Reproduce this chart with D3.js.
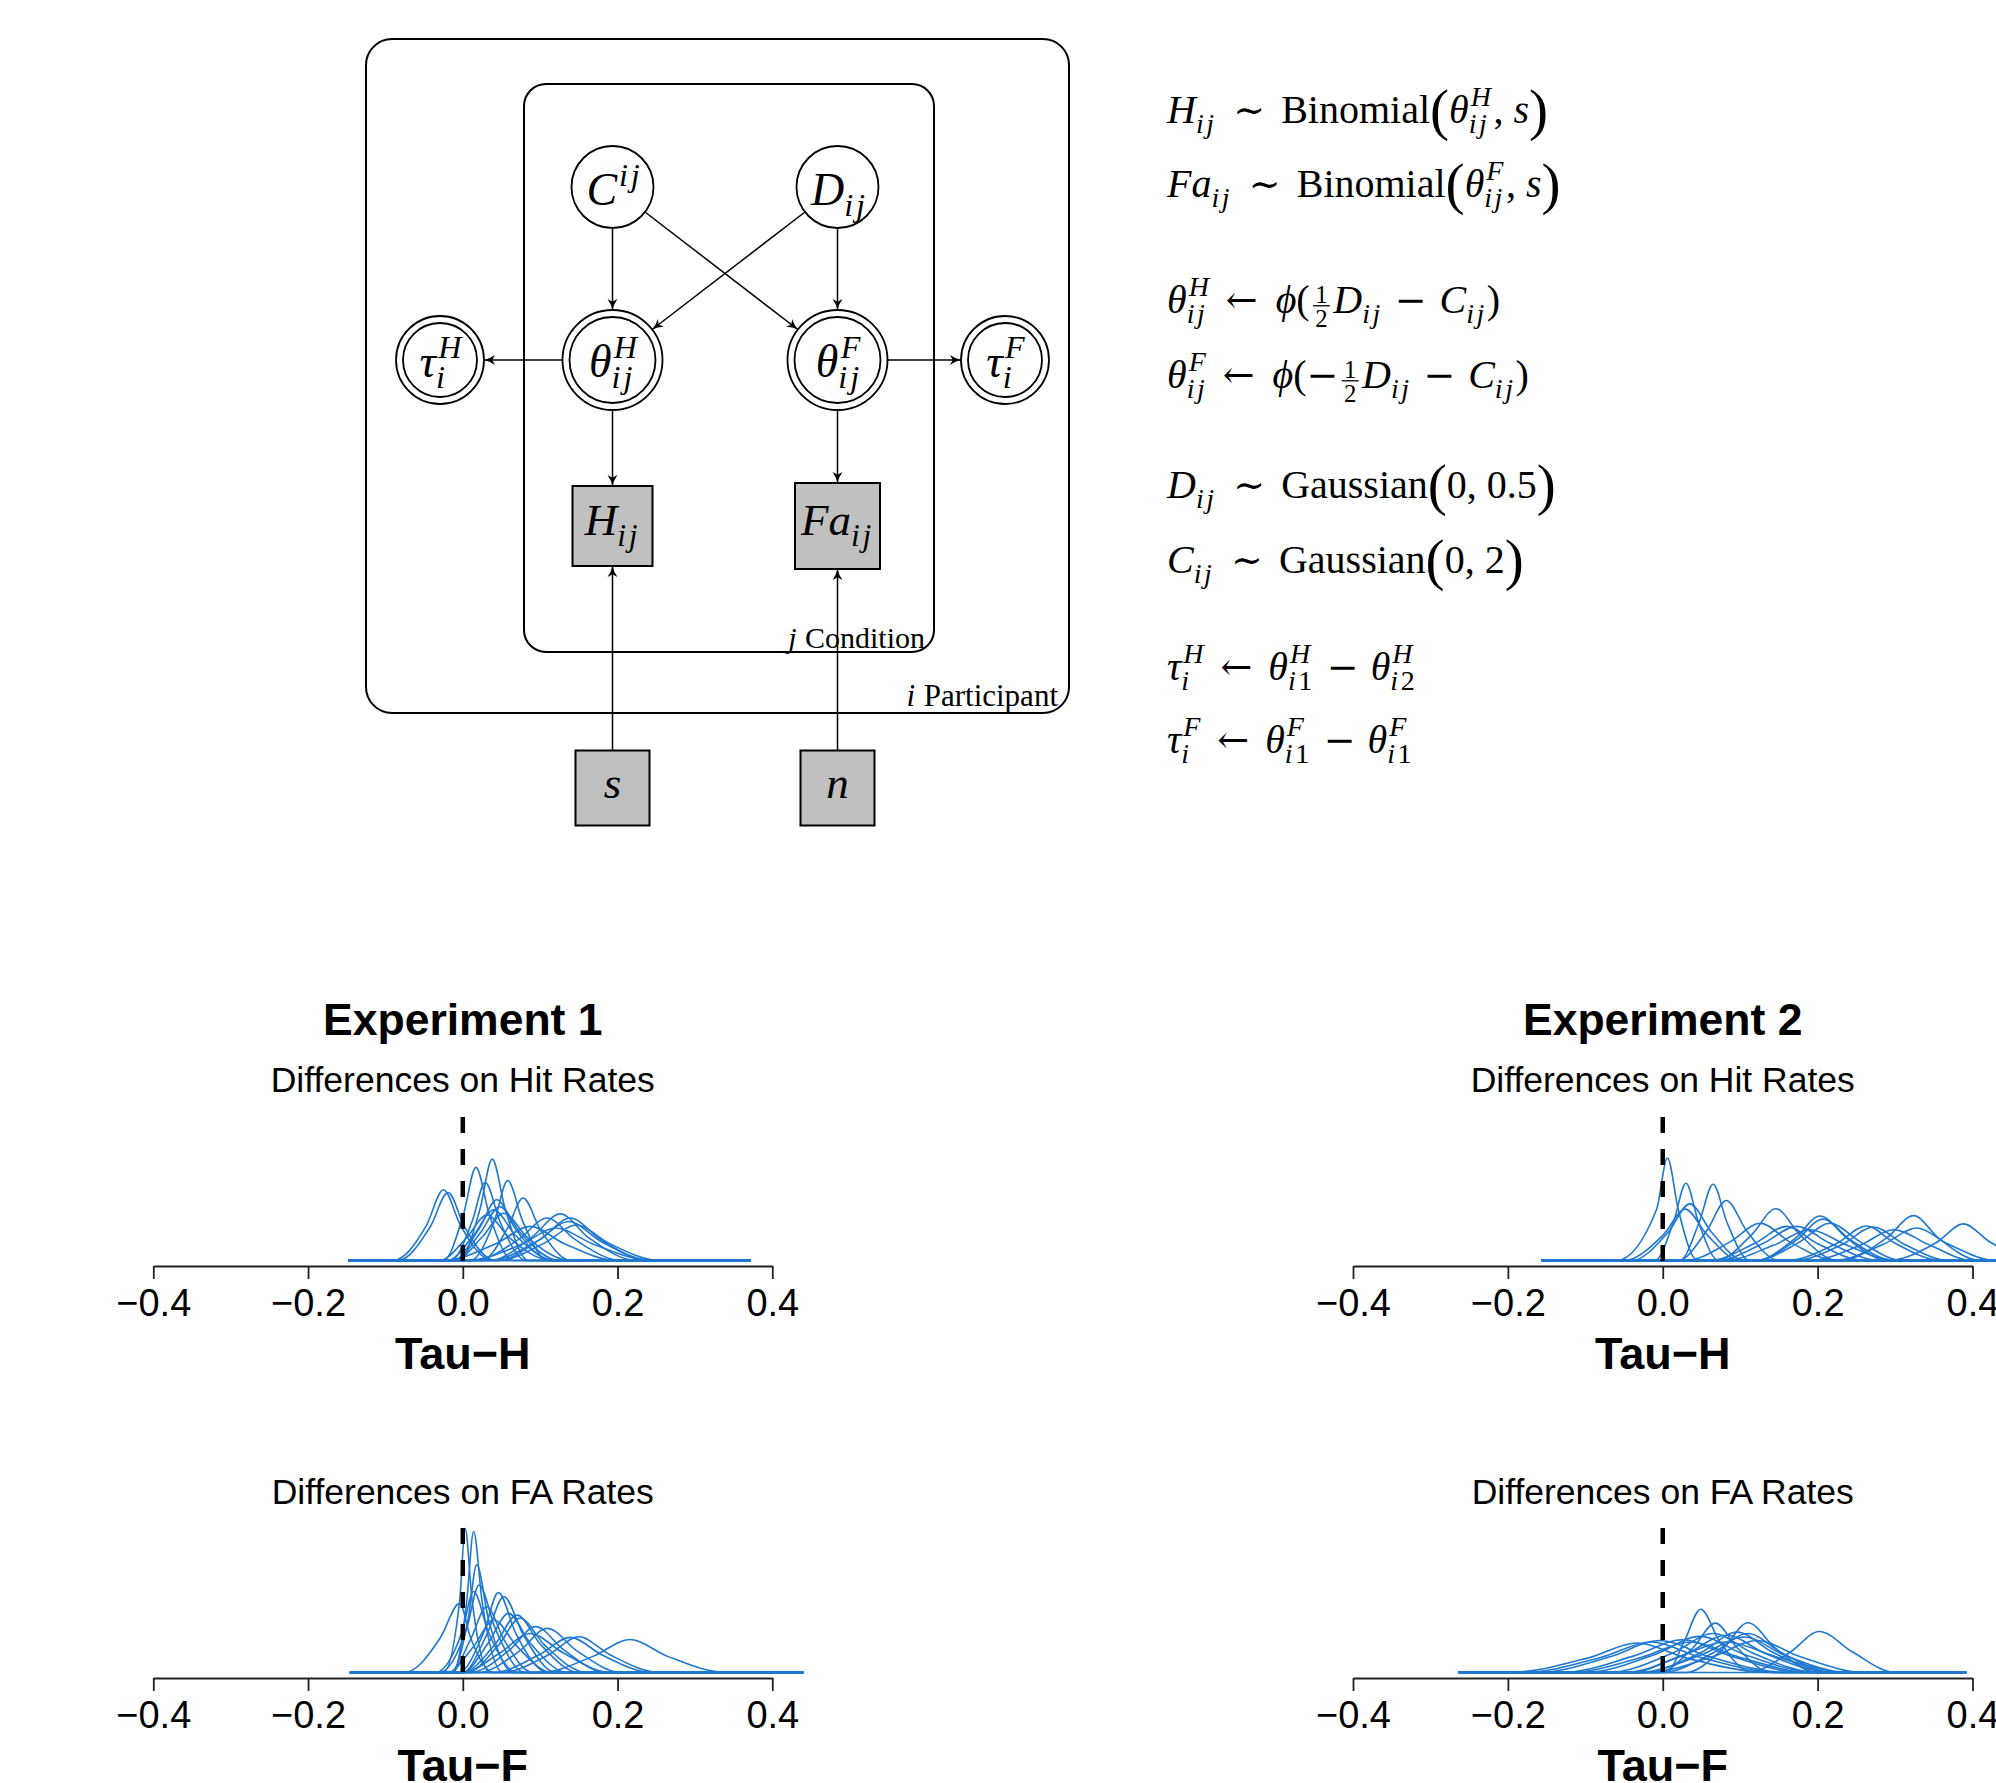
<!DOCTYPE html>
<html>
<head>
<meta charset="utf-8">
<script src="https://cdn.jsdelivr.net/npm/d3@7"></script>
<style>
  body { margin: 0; background: #fff; }
  svg { display: block; }
</style>
</head>
<body>
<script>
let width = 1996, height = 1783
const serif = "'Liberation Serif', 'DejaVu Serif', serif"
const opFont = "'DejaVu Serif', serif"
const sans = "'Liberation Sans', Arial, Helvetica, sans-serif"

// ---- posterior densities: knots [tau, density] ----
const hit1Range = [-0.148, 0.372]
const hit1 = [
  [[-0.090, 0], [-0.047, 10.2], [-0.025, 20.5], [-0.003, 10.2], [0.038, 0]],
  [[-0.084, 0], [-0.042, 9.8], [-0.019, 19.7], [0.002, 9.8], [0.042, 0]],
  [[-0.005, 0], [0.022, 14.7], [0.038, 29.4], [0.055, 14.7], [0.085, 0]],
  [[-0.025, 0], [0.001, 13.5], [0.017, 27.0], [0.034, 13.5], [0.065, 0]],
  [[0.010, 0], [0.041, 11.6], [0.058, 23.2], [0.077, 11.6], [0.110, 0]],
  [[-0.015, 0], [0.012, 11.3], [0.029, 22.6], [0.048, 11.3], [0.082, 0]],
  [[0.025, 0], [0.057, 9.0], [0.078, 18.1], [0.100, 9.0], [0.140, 0]],
  [[-0.012, 0], [0.020, 8.8], [0.044, 17.6], [0.069, 8.8], [0.115, 0]],
  [[-0.010, 0], [0.022, 7.8], [0.048, 15.6], [0.075, 7.8], [0.125, 0]],
  [[-0.020, 0], [0.014, 7.3], [0.040, 14.7], [0.068, 7.3], [0.120, 0]],
  [[-0.030, 0], [0.005, 6.6], [0.031, 13.2], [0.060, 6.6], [0.115, 0]],
  [[-0.010, 0], [0.025, 6.8], [0.053, 13.7], [0.083, 6.8], [0.140, 0]],
  [[0.035, 0], [0.089, 6.7], [0.126, 13.5], [0.162, 6.7], [0.225, 0]],
  [[0.045, 0], [0.100, 6.1], [0.139, 12.3], [0.178, 6.1], [0.240, 0]],
  [[0.015, 0], [0.072, 6.1], [0.109, 12.3], [0.145, 6.1], [0.205, 0]],
  [[0.035, 0], [0.096, 5.6], [0.137, 11.3], [0.178, 5.6], [0.245, 0]],
  [[0.045, 0], [0.106, 5.1], [0.147, 10.3], [0.188, 5.1], [0.255, 0]],
  [[-0.025, 0], [0.044, 5.0], [0.087, 9.9], [0.130, 5.0], [0.200, 0]],
  [[0.005, 0], [0.076, 4.7], [0.120, 9.4], [0.169, 4.7], [0.245, 0]]
]
const hit2Range = [-0.157, 0.6]
const hit2 = [
  [[-0.060, 0], [-0.008, 14.8], [0.006, 29.7], [0.020, 14.8], [0.045, 0]],
  [[-0.010, 0], [0.014, 11.2], [0.030, 22.4], [0.046, 11.2], [0.072, 0]],
  [[0.022, 0], [0.047, 11.0], [0.065, 22.1], [0.083, 11.0], [0.112, 0]],
  [[-0.040, 0], [0.007, 8.2], [0.035, 16.4], [0.063, 8.2], [0.105, 0]],
  [[-0.050, 0], [0.001, 7.5], [0.029, 14.9], [0.057, 7.5], [0.100, 0]],
  [[0.020, 0], [0.057, 8.7], [0.082, 17.4], [0.108, 8.7], [0.150, 0]],
  [[0.070, 0], [0.115, 7.5], [0.146, 15.0], [0.177, 7.5], [0.225, 0]],
  [[0.030, 0], [0.087, 5.4], [0.126, 10.8], [0.164, 5.4], [0.225, 0]],
  [[0.060, 0], [0.119, 5.0], [0.160, 9.9], [0.199, 5.0], [0.260, 0]],
  [[0.070, 0], [0.130, 5.0], [0.173, 9.9], [0.216, 5.0], [0.280, 0]],
  [[0.120, 0], [0.171, 6.4], [0.203, 12.9], [0.238, 6.4], [0.290, 0]],
  [[0.120, 0], [0.173, 6.0], [0.207, 12.0], [0.242, 6.0], [0.300, 0]],
  [[0.120, 0], [0.177, 5.4], [0.216, 10.8], [0.255, 5.4], [0.310, 0]],
  [[0.160, 0], [0.225, 5.0], [0.263, 10.0], [0.300, 5.0], [0.360, 0]],
  [[0.170, 0], [0.233, 4.8], [0.272, 9.7], [0.311, 4.8], [0.370, 0]],
  [[0.230, 0], [0.289, 6.5], [0.324, 13.0], [0.356, 6.5], [0.410, 0]],
  [[0.220, 0], [0.285, 4.7], [0.328, 9.4], [0.369, 4.7], [0.430, 0]],
  [[0.290, 0], [0.354, 5.3], [0.388, 10.6], [0.423, 5.3], [0.480, 0]],
  [[0.190, 0], [0.255, 4.4], [0.298, 8.9], [0.345, 4.4], [0.400, 0]],
  [[0.080, 0], [0.143, 4.4], [0.190, 8.9], [0.238, 4.4], [0.300, 0]]
]
const fa1Range = [-0.146, 0.44]
const fa1 = [
  [[-0.025, 0], [-0.004, 20.8], [0.003, 41.5], [0.012, 20.8], [0.035, 0]],
  [[-0.012, 0], [0.005, 20.3], [0.014, 40.6], [0.025, 20.3], [0.052, 0]],
  [[-0.015, 0], [0.007, 15.5], [0.018, 31.0], [0.033, 15.5], [0.065, 0]],
  [[-0.030, 0], [0.005, 12.6], [0.021, 25.2], [0.042, 12.6], [0.080, 0]],
  [[-0.035, 0], [-0.001, 11.7], [0.014, 23.3], [0.033, 11.7], [0.070, 0]],
  [[-0.075, 0], [-0.029, 10.0], [-0.004, 19.9], [0.010, 10.0], [0.040, 0]],
  [[-0.005, 0], [0.027, 11.5], [0.046, 23.0], [0.068, 11.5], [0.110, 0]],
  [[0.000, 0], [0.031, 10.9], [0.053, 21.8], [0.078, 10.9], [0.120, 0]],
  [[0.000, 0], [0.042, 8.2], [0.070, 16.5], [0.100, 8.2], [0.150, 0]],
  [[0.005, 0], [0.046, 7.8], [0.074, 15.6], [0.106, 7.8], [0.160, 0]],
  [[0.010, 0], [0.061, 6.6], [0.094, 13.2], [0.130, 6.6], [0.185, 0]],
  [[0.020, 0], [0.074, 6.3], [0.109, 12.7], [0.147, 6.3], [0.205, 0]],
  [[0.050, 0], [0.111, 5.1], [0.150, 10.3], [0.190, 5.1], [0.255, 0]],
  [[0.040, 0], [0.098, 5.0], [0.139, 10.1], [0.180, 5.0], [0.245, 0]],
  [[0.100, 0], [0.169, 4.7], [0.216, 9.5], [0.264, 4.7], [0.340, 0]],
  [[-0.015, 0], [0.010, 9.5], [0.031, 18.9], [0.053, 9.5], [0.090, 0]],
  [[0.000, 0], [0.033, 8.5], [0.059, 17.0], [0.087, 8.5], [0.135, 0]],
  [[0.000, 0], [0.048, 5.6], [0.087, 11.2], [0.130, 5.6], [0.190, 0]],
  [[-0.020, 0], [0.014, 7.5], [0.040, 15.1], [0.070, 7.5], [0.115, 0]]
]
const fa2Range = [-0.264, 0.392]
const fa2 = [
  [[0.005, 0], [0.028, 9.1], [0.049, 18.2], [0.073, 9.1], [0.115, 0]],
  [[-0.005, 0], [0.039, 7.1], [0.068, 14.2], [0.096, 7.1], [0.140, 0]],
  [[0.030, 0], [0.079, 7.1], [0.110, 14.3], [0.145, 7.1], [0.200, 0]],
  [[0.110, 0], [0.165, 5.9], [0.202, 11.8], [0.245, 5.9], [0.300, 0]],
  [[-0.160, 0], [-0.067, 4.6], [-0.004, 9.2], [0.059, 4.6], [0.160, 0]],
  [[-0.180, 0], [-0.079, 4.4], [-0.015, 8.75], [0.048, 4.4], [0.150, 0]],
  [[-0.200, 0], [-0.096, 4.2], [-0.033, 8.5], [0.030, 4.2], [0.140, 0]],
  [[-0.130, 0], [-0.038, 4.7], [0.025, 9.4], [0.088, 4.7], [0.180, 0]],
  [[-0.100, 0], [-0.010, 5.2], [0.048, 10.4], [0.105, 5.2], [0.200, 0]],
  [[-0.070, 0], [0.013, 5.6], [0.065, 11.2], [0.116, 5.6], [0.200, 0]],
  [[-0.050, 0], [0.030, 5.3], [0.082, 10.7], [0.134, 5.3], [0.220, 0]],
  [[-0.030, 0], [0.050, 5.8], [0.096, 11.6], [0.142, 5.8], [0.220, 0]],
  [[-0.030, 0], [0.050, 5.1], [0.105, 10.2], [0.156, 5.1], [0.240, 0]],
  [[-0.020, 0], [0.065, 4.6], [0.122, 9.2], [0.177, 4.6], [0.260, 0]],
  [[-0.120, 0], [-0.027, 4.4], [0.036, 8.75], [0.099, 4.4], [0.190, 0]],
  [[0.000, 0], [0.065, 5.6], [0.110, 11.2], [0.154, 5.6], [0.220, 0]],
  [[-0.040, 0], [0.019, 4.4], [0.082, 8.75], [0.148, 4.4], [0.240, 0]]
]

const xTicks = [-0.4, -0.2, 0, 0.2, 0.4]
const yMax = 40
const expTitles = ['Experiment 1', 'Experiment 2']
const rowTitles = ['Differences on Hit Rates', 'Differences on FA Rates']
const axisTitles = ['Tau−H', 'Tau−F']

// model equations, as math tokens ('o' = operator symbol)
const equations = [
  [['i', 'H'], ['_', 'ij'], ['sp', 0.42], ['o', '∼'], ['sp', 0.4], ['r', 'Binomial'], ['big', '('], ['i', 'θ'], ['^_', 'H', 'ij'], ['r', ','], ['sp', 0.25], ['i', 's'], ['big', ')']],
  [['i', 'Fa'], ['_', 'ij'], ['sp', 0.42], ['o', '∼'], ['sp', 0.4], ['r', 'Binomial'], ['big', '('], ['i', 'θ'], ['^_', 'F', 'ij'], ['r', ','], ['sp', 0.25], ['i', 's'], ['big', ')']],
  [['i', 'θ'], ['^_', 'H', 'ij'], ['sp', 0.36], ['o', '←'], ['sp', 0.45], ['i', 'ϕ'], ['r', '('], ['fr', '1', '2'], ['i', 'D'], ['_', 'ij'], ['sp', 0.3], ['o', '−'], ['sp', 0.32], ['i', 'C'], ['_', 'ij'], ['r', ')']],
  [['i', 'θ'], ['^_', 'F', 'ij'], ['sp', 0.36], ['o', '←'], ['sp', 0.45], ['i', 'ϕ'], ['r', '('], ['o', '−'], ['fr', '1', '2'], ['i', 'D'], ['_', 'ij'], ['sp', 0.3], ['o', '−'], ['sp', 0.32], ['i', 'C'], ['_', 'ij'], ['r', ')']],
  [['i', 'D'], ['_', 'ij'], ['sp', 0.42], ['o', '∼'], ['sp', 0.4], ['r', 'Gaussian'], ['big', '('], ['r', '0,'], ['sp', 0.25], ['r', '0.5'], ['big', ')']],
  [['i', 'C'], ['_', 'ij'], ['sp', 0.42], ['o', '∼'], ['sp', 0.4], ['r', 'Gaussian'], ['big', '('], ['r', '0,'], ['sp', 0.25], ['r', '2'], ['big', ')']],
  [['i', 'τ'], ['^_', 'H', 'i'], ['sp', 0.36], ['o', '←'], ['sp', 0.4], ['i', 'θ'], ['^_', 'H', 'i1'], ['sp', 0.3], ['o', '−'], ['sp', 0.3], ['i', 'θ'], ['^_', 'H', 'i2']],
  [['i', 'τ'], ['^_', 'F', 'i'], ['sp', 0.36], ['o', '←'], ['sp', 0.4], ['i', 'θ'], ['^_', 'F', 'i1'], ['sp', 0.3], ['o', '−'], ['sp', 0.3], ['i', 'θ'], ['^_', 'F', 'i1']]
]
const eqBaselines = [123, 197, 313, 388, 498, 573, 680, 753]

// graphical model nodes
const circleNodes = [
  {id: 'C', x: 612.5, y: 187, r: 41, label: [['i', 'C'], ['^', 'ij']]},
  {id: 'D', x: 837.5, y: 187, r: 41, label: [['i', 'D'], ['_', 'ij']]},
  {id: 'thH', x: 612.5, y: 360, r: 50, r2: 43, label: [['i', 'θ'], ['^_', 'H', 'ij']]},
  {id: 'thF', x: 837.5, y: 360, r: 50, r2: 43, label: [['i', 'θ'], ['^_', 'F', 'ij']]},
  {id: 'tauH', x: 440, y: 360, r: 44, r2: 37, label: [['i', 'τ'], ['^_', 'H', 'i']]},
  {id: 'tauF', x: 1005, y: 360, r: 44, r2: 37, label: [['i', 'τ'], ['^_', 'F', 'i']]}
]
const boxNodes = [
  {id: 'H', x: 612.5, y: 526, w: 80, h: 80, label: [['i', 'H'], ['_', 'ij']]},
  {id: 'Fa', x: 837.5, y: 526, w: 85, h: 86, label: [['i', 'Fa'], ['_', 'ij']]},
  {id: 's', x: 612.5, y: 788, w: 74, h: 75, label: [['i', 's']]},
  {id: 'n', x: 837.5, y: 788, w: 74, h: 75, label: [['i', 'n']]}
]
const edges = [['C', 'thH'], ['D', 'thF'], ['C', 'thF'], ['D', 'thH'], ['thH', 'tauH'], ['thF', 'tauF'],
  ['thH', 'H'], ['thF', 'Fa'], ['s', 'H'], ['n', 'Fa']]

let svg = d3.select('body').append('svg')
  .attr('width', width).attr('height', height)
  .attr('font-family', serif)

// ---------- tiny math typesetter ----------
function put(g, txt, x, y, size, style, family) {
  const t = g.append('text').attr('x', x).attr('y', y).attr('font-size', size)
  if (family) t.attr('font-family', family)
  if (style === 'auto') {
    t.attr('letter-spacing', size * 0.09)
    txt.split('').forEach(ch => t.append('tspan')
      .attr('font-style', /[0-9]/.test(ch) ? 'normal' : 'italic').text(ch))
  } else {
    t.attr('font-style', style).text(txt)
  }
  return t.node().getComputedTextLength()
}

function mathLine(parent, x, y, tokens, fs, anchor) {
  const g = parent.append('g')
  let cx = 0
  const sub = 0.7 * fs
  tokens.forEach(([k, a, b]) => {
    if (k === 'i') cx += put(g, a, cx, 0, fs, 'italic')
    else if (k === 'r') cx += put(g, a, cx, 0, fs, 'normal')
    else if (k === 'o') cx += put(g, a, cx, 0, fs * 0.95, 'normal', opFont)
    else if (k === '_') cx += put(g, a, cx, 0.24 * fs, sub, 'auto')
    else if (k === '^') cx += put(g, a, cx + 0.04 * fs, -0.42 * fs, sub, 'auto') + 0.04 * fs
    else if (k === '^_') {
      const w1 = put(g, a, cx + 0.05 * fs, -0.42 * fs, sub, 'auto') + 0.05 * fs
      const w2 = put(g, b, cx, 0.24 * fs, sub, 'auto')
      cx += Math.max(w1, w2)
    }
    else if (k === 'sp') cx += a * fs
    else if (k === 'big') cx += put(g, a, cx, 0.15 * fs, 1.43 * fs, 'normal')
    else if (k === 'fr') {
      const fsz = 0.62 * fs
      const pad = 0.14 * fs
      const tmp = g.append('g')
      const wn = put(tmp, a, 0, 0, fsz, 'normal'), wd = put(tmp, b, 0, 0, fsz, 'normal')
      tmp.remove()
      const w = Math.max(wn, wd) + 2 * pad
      put(g, a, cx + (w - wn) / 2, -0.24 * fs, fsz, 'normal')
      put(g, b, cx + (w - wd) / 2, 0.36 * fs, fsz, 'normal')
      g.append('line').attr('x1', cx + pad * 0.6).attr('x2', cx + w - pad * 0.6)
        .attr('y1', -0.18 * fs).attr('y2', -0.18 * fs)
        .attr('stroke', '#000').attr('stroke-width', 1.3)
      cx += w
    }
  })
  const shift = anchor === 'middle' ? cx / 2 : anchor === 'end' ? cx : 0
  g.attr('transform', `translate(${x - shift},${y})`)
  return g
}

// ---------- graphical model ----------
svg.append('defs').append('marker')
  .attr('id', 'arr').attr('viewBox', '0 -5 10 10')
  .attr('refX', 10).attr('refY', 0)
  .attr('markerWidth', 11).attr('markerHeight', 11)
  .attr('markerUnits', 'userSpaceOnUse').attr('orient', 'auto')
  .append('path').attr('d', 'M0,-4.5Q5,-1 10,0Q5,1 0,4.5L2.5,0Z').attr('fill', '#000')

let diag = svg.append('g')

// plates
diag.append('rect').attr('x', 366).attr('y', 39).attr('width', 703).attr('height', 674)
  .attr('rx', 26).attr('fill', 'none').attr('stroke', '#000').attr('stroke-width', 2)
diag.append('rect').attr('x', 524).attr('y', 84).attr('width', 410).attr('height', 568)
  .attr('rx', 22).attr('fill', 'none').attr('stroke', '#000').attr('stroke-width', 2)
mathLine(diag, 925, 648, [['i', 'j'], ['sp', 0.28], ['r', 'Condition']], 30, 'end')
mathLine(diag, 1058, 706, [['i', 'i'], ['sp', 0.28], ['r', 'Participant']], 31, 'end')

// edges
const nodeById = {}
circleNodes.forEach(n => nodeById[n.id] = Object.assign({shape: 'c'}, n))
boxNodes.forEach(n => nodeById[n.id] = Object.assign({shape: 'b'}, n))
function rim(n, ux, uy) {
  if (n.shape === 'c') return [n.x + n.r * ux, n.y + n.r * uy]
  const t = Math.min(ux ? (n.w / 2) / Math.abs(ux) : Infinity, uy ? (n.h / 2) / Math.abs(uy) : Infinity)
  return [n.x + t * ux, n.y + t * uy]
}
diag.append('g').selectAll('line').data(edges).join('line')
  .each(function ([a, b]) {
    const na = nodeById[a], nb = nodeById[b]
    const dx = nb.x - na.x, dy = nb.y - na.y, L = Math.hypot(dx, dy)
    const p0 = rim(na, dx / L, dy / L), p1 = rim(nb, -dx / L, -dy / L)
    d3.select(this).attr('x1', p0[0]).attr('y1', p0[1]).attr('x2', p1[0]).attr('y2', p1[1])
  })
  .attr('stroke', '#000').attr('stroke-width', 1.5).attr('marker-end', 'url(#arr)')

// circles
const cg = diag.append('g').selectAll('g').data(circleNodes).join('g')
cg.append('circle').attr('cx', d => d.x).attr('cy', d => d.y).attr('r', d => d.r)
  .attr('fill', '#fff').attr('stroke', '#000').attr('stroke-width', 1.8)
cg.filter(d => d.r2).append('circle').attr('cx', d => d.x).attr('cy', d => d.y).attr('r', d => d.r2)
  .attr('fill', 'none').attr('stroke', '#000').attr('stroke-width', 1.8)
circleNodes.forEach(d => mathLine(diag, d.x + 2, d.y + (d.r2 ? 17 : 18), d.label, 46, 'middle'))

// observed / fixed boxes
diag.append('g').selectAll('rect').data(boxNodes).join('rect')
  .attr('x', d => d.x - d.w / 2).attr('y', d => d.y - d.h / 2)
  .attr('width', d => d.w).attr('height', d => d.h)
  .attr('fill', '#c0c0c0').attr('stroke', '#000').attr('stroke-width', 2)
boxNodes.forEach(d => mathLine(diag, d.x, d.y + (d.label.length > 1 ? 9 : 10), d.label, 45, 'middle'))

// equations
equations.forEach((eq, i) => mathLine(svg, 1167, eqBaselines[i], eq, 40, 'start'))

// ---------- posterior density panels ----------
const colX = [[153.3, 772.3], [1353, 1972.5]]
const rowY = [[1117, 1266], [1528, 1678]]
const subTitleY = [1092, 1504]
const axisTitleY = [1369, 1781]

const panels = [
  {col: 0, row: 0, curves: hit1, range: hit1Range},
  {col: 1, row: 0, curves: hit2, range: hit2Range},
  {col: 0, row: 1, curves: fa1, range: fa1Range},
  {col: 1, row: 1, curves: fa2, range: fa2Range}
]

panels.forEach(p => {
  const x = d3.scaleLinear().domain([-0.4, 0.4]).range(colX[p.col])
  const y = d3.scaleLinear().domain([-0.04 * yMax, 1.04 * yMax]).range([rowY[p.row][1], rowY[p.row][0]])
  const line = d3.line().x(d => x(d[0])).y(d => y(d[1])).curve(d3.curveMonotoneX)
  const g = svg.append('g')

  g.append('g').selectAll('path').data(p.curves).join('path')
    .attr('d', c => line([[p.range[0], 0], ...c, [p.range[1], 0]]))
    .attr('fill', 'none').attr('stroke', '#1f77d0').attr('stroke-width', 1.6)

  g.append('line')
    .attr('x1', x(0)).attr('x2', x(0))
    .attr('y1', rowY[p.row][0]).attr('y2', rowY[p.row][1])
    .attr('stroke', '#000').attr('stroke-width', 4.5).attr('stroke-dasharray', '16,16')

  g.append('g')
    .attr('transform', `translate(0, ${rowY[p.row][1]})`)
    .call(d3.axisBottom(x).tickValues(xTicks).tickFormat(d3.format('.1f')).tickSize(13).tickSizeOuter(0))
    .attr('font-family', sans).attr('font-size', 38)
    .call(a => a.selectAll('.domain, .tick line').attr('stroke', '#222').attr('stroke-width', 1.8))
    .call(a => a.selectAll('.tick text').attr('y', 50).attr('dy', null).attr('fill', '#000'))

  const cx = x(0)
  if (p.row === 0) {
    g.append('text').attr('x', cx).attr('y', 1035).attr('text-anchor', 'middle')
      .attr('font-family', sans).attr('font-weight', 'bold').attr('font-size', 44.5)
      .text(expTitles[p.col])
  }
  g.append('text').attr('x', cx).attr('y', subTitleY[p.row]).attr('text-anchor', 'middle')
    .attr('font-family', sans).attr('font-size', 35.5)
    .text(rowTitles[p.row])
  g.append('text').attr('x', cx).attr('y', axisTitleY[p.row]).attr('text-anchor', 'middle')
    .attr('font-family', sans).attr('font-weight', 'bold').attr('font-size', 45)
    .text(axisTitles[p.row])
})
</script>
</body>
</html>
